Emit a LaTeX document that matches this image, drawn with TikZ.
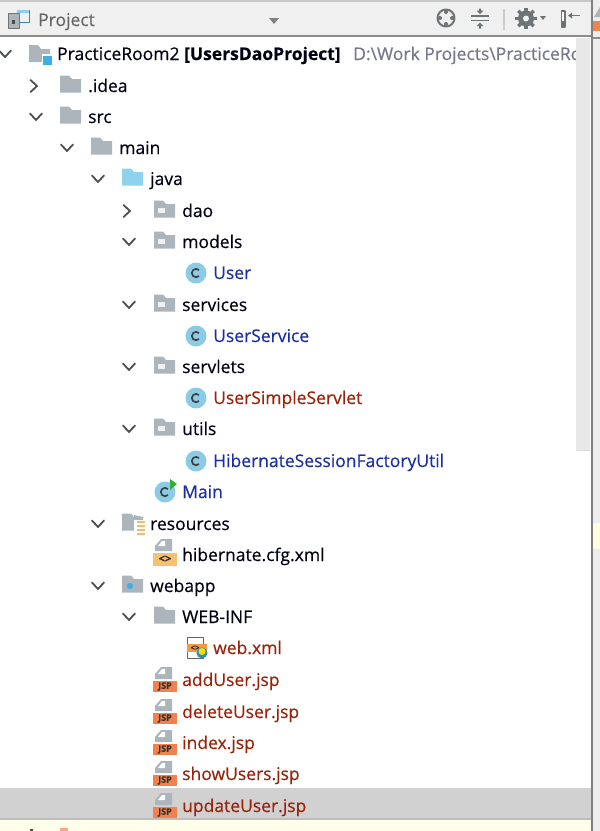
\documentclass[tikz,border=0pt]{standalone}
\usepackage{fontspec}
\setmainfont[RawFeature={embolden=0.35}]{Open Sans}
\begin{document}
\begin{tikzpicture}[x=1pt,y=-1pt,line join=round,
  lbl/.style={anchor=base west,inner sep=0pt,font=\fontsize{17.5}{19}\selectfont,text=black!92!blue},
  blu/.style={lbl,text=cblue},
  red/.style={lbl,text=cred},
  gryt/.style={lbl,text=cgrayt},
  chev/.style={draw=cchev,line width=1.8pt,line cap=round},
  tool/.style={draw=ctool,line width=1.6pt}]
\definecolor{cblue}{HTML}{1A2FA0}
\definecolor{cred}{HTML}{9A2208}
\definecolor{cgrayt}{HTML}{77778A}
\definecolor{cchev}{HTML}{4A4F52}
\definecolor{cfold}{HTML}{ACB5BC}
\definecolor{ctool}{HTML}{6E7376}
\definecolor{cjava}{HTML}{8ED2EE}
\definecolor{ccirc}{HTML}{8CCBE6}
\definecolor{cdot}{HTML}{3FAEE0}
\definecolor{corange}{HTML}{F0824E}
\definecolor{cxml}{HTML}{F6C170}
\useasboundingbox (0,0) rectangle (600,831);
% panels
\fill[white] (0,0) rectangle (600,831);
\fill[black!6] (0,2) rectangle (591,35);
\fill[black!22] (0,0) rectangle (600,2);
\fill[black!45] (0,35) rectangle (591,37);
\fill[black!7] (593,0) rectangle (600,831);
\fill[black!9] (576,38) rectangle (590,450);
\fill[black!14] (576,449.5) rectangle (590,450.5);
\fill[black!50] (590.5,0) rectangle (592.5,831);
\fill[black!18] (0,788) rectangle (590.5,819);
\fill[black!26] (0,817.5) rectangle (590.5,819.5);
\fill[yellow!8] (0,819.5) rectangle (590.5,831);
\fill[yellow!12] (593,523) rectangle (600,549);
\fill[black!30] (600,7) -- (594,17) -- (600,17) -- cycle;
\fill[corange] (593,21) rectangle (600,31);
\fill[black!45] (593,37) rectangle (600,39);
% macros
\def\chevd#1#2{\draw[chev] (#1-6,#2-3.5) -- (#1,#2+3) -- (#1+6,#2-3.5);}
\def\chevr#1#2{\draw[chev] (#1-3.5,#2-6) -- (#1+3,#2) -- (#1-3.5,#2+6);}
\def\fold#1#2#3{\fill[#3] (#1,#2-10.5) -- (#1+9,#2-10.5) -- (#1+12,#2-7) -- (#1+21,#2-7) -- (#1+21,#2+6.5) -- (#1,#2+6.5) -- cycle;}
\def\pkg#1#2{\fold{#1}{#2}{cfold}\fill[white!80!cfold] (#1+4,#2-3) rectangle (#1+11,#2+2);}
\def\cls#1#2{\fill[ccirc] (#1,#2) circle (10.5);\draw[black!75,line width=1.7pt] (#1+3,#2+3) arc (45:315:4.2);}
\def\doc#1#2{\fill[cfold] (#1+8,#2-13) -- (#1+19,#2-13) -- (#1+19,#2-1) -- (#1+2,#2-1) -- (#1+2,#2-6) -- cycle;\fill[white] (#1+9,#2-11) -- (#1+12,#2-11) -- (#1+12,#2-6) -- (#1+5,#2-6) -- cycle;}
\def\jsp#1#2{\doc{#1}{#2}\fill[corange] (#1,#2+1) rectangle (#1+24,#2+12);\node[inner sep=0pt,font=\fontsize{9}{9}\bfseries\selectfont,text=black!80] at (#1+12,#2+6.5) {JSP};}
% header
\fill[cfold] (8,13) rectangle (19,28);
\draw[black!55,line width=.8pt] (8,13) rectangle (19,28);
\draw[cdot!80!black,line width=1pt] (19,10) -- (29,10) -- (29,22) -- (19,22);
\fill[cdot!60] (17,10) rectangle (29,13);
\fill[black!70] (11.5,19.5) rectangle (15,24);
\node[lbl,text=black!60] (hdr) at (38,26) {Project};
\fill[black!50] (269,18) -- (279,18) -- (274,24) -- cycle;
% toolbar
\draw[tool,line width=2pt] (446,18) circle (8.5);
\fill[ctool] (446,12) circle (2) (446,24) circle (2) (440,18) circle (2) (452,18) circle (2);
\draw[tool,line width=1.1pt] (471,16) -- (489,16) (471,20.5) -- (489,20.5);
\fill[ctool] (480,14) -- (476.5,10.5) -- (479,10.5) -- (479,8.5) -- (481,8.5) -- (481,10.5) -- (483.5,10.5) -- cycle;
\fill[ctool] (480,22.5) -- (476.5,26) -- (479,26) -- (479,28.5) -- (481,28.5) -- (481,26) -- (483.5,26) -- cycle;
\fill[black!20] (503,9) rectangle (505,30);
\fill[ctool] (526,18.5) circle (8);
\foreach \a in {0,45,...,315}{\draw[ctool,line width=3.2pt] (526,18.5) -- ++(\a:10.8);}
\fill[black!6] (526,18.5) circle (3);
\fill[black!55] (540,16) -- (546,16) -- (543,20) -- cycle;
\draw[ctool,line width=1.2pt,fill=white] (561.5,11) rectangle (565,27);
\fill[ctool] (561.5,21) rectangle (565,27);
\draw[ctool,line width=1.3pt] (570,15.5) -- (580,15.5);
\fill[ctool] (568,15.5) -- (572,12.5) -- (572,18.5) -- cycle;
% tree
\chevd{5}{54}
\fill[cfold] (29,45) -- (38,45) -- (41,49) -- (50,49) -- (50,62) -- (29,62) -- cycle;
\fill[white] (42,54) rectangle (53,66);
\fill[cdot] (43,56) rectangle (52,65);
\node[lbl] (root) at (57,60) {PracticeRoom2 \textbf{[UsersDaoProject]}};
\node[gryt] (path) at (353,60) {D:\textbackslash Work Projects\textbackslash PracticeRoo};
\fill[white] (576,38) rectangle (591,80);\fill[black!9] (576,38) rectangle (590,450);
\chevr{34}{86}\fold{60}{86}{cfold}\node[lbl] (idea) at (88,92) {.idea};
\chevd{36}{117}\fold{60}{117}{cfold}\node[lbl] (src) at (88,123) {src};
\chevd{67}{148}\fold{91}{148}{cfold}\node[lbl] (main) at (119,154) {main};
\chevd{98}{179}\fold{122}{179}{cjava}\node[lbl] (java) at (150,185) {java};
\chevr{127}{211}\pkg{154}{211}\node[lbl] (dao) at (182,217) {dao};
\chevd{129}{242}\pkg{154}{242}\node[lbl] (models) at (182,248) {models};
\cls{196}{273}\node[blu] (user) at (213,279) {User};
\chevd{129}{305}\pkg{154}{305}\node[lbl] (services) at (182,311) {services};
\cls{196}{336}\node[blu] (usvc) at (213,342) {UserService};
\chevd{129}{367}\pkg{154}{367}\node[lbl] (servlets) at (182,373) {servlets};
\cls{196}{398}\node[red] (usrv) at (213,404) {UserSimpleServlet};
\chevd{129}{429}\pkg{154}{429}\node[lbl] (utils) at (182,435) {utils};
\cls{196}{461}\node[blu] (hib) at (213,467) {HibernateSessionFactoryUtil};
\cls{165}{492}\fill[green!60!black!80] (170,479) -- (177,484) -- (170,490) -- cycle;
\node[blu] (mainc) at (182,498) {Main};
% resources
\chevd{98}{524}\fold{122}{524}{cfold}\fill[white] (134,519) rectangle (148,537);
\fill[cfold] (134,515) -- (143,517) -- (143,520) -- (134,520) -- cycle;
\foreach \yy in {521,525,529,533}{\fill[cxml!90!orange] (137,\yy) rectangle (145,\yy+2);}
\node[lbl] (res) at (150,530) {resources};
\doc{153}{552}\fill[cxml] (153,553) rectangle (177,566);
\node[inner sep=0pt,font=\fontsize{11}{11}\bfseries\selectfont,text=black!80] at (165,559) {<>};
\node[lbl] (cfg) at (182,561) {hibernate.cfg.xml};
% webapp
\chevd{98}{586}\fold{122}{586}{cfold}\fill[cdot] (130,586) circle (3.2);
\node[lbl] (web) at (150,592) {webapp};
\chevd{129}{617}\fold{154}{617}{cfold}\node[lbl] (inf) at (182,623) {WEB-INF};
\draw[black!60,line width=1pt] (187,637) rectangle (203,658);
\fill[corange!80!yellow] (187,644) rectangle (207,652);
\node[inner sep=0pt,font=\fontsize{8}{8}\bfseries\selectfont,text=black!80] at (195,648) {<>};
\fill[cdot!80!black] (202,653) circle (5.5);\fill[yellow!80!orange] (202,651.5) circle (3.5);
\node[red] (wx) at (213,654) {web.xml};
\jsp{153}{680}\node[red] (add) at (182,686) {addUser.jsp};
\jsp{153}{712}\node[red] (del) at (182,718) {deleteUser.jsp};
\jsp{153}{743}\node[red] (idx) at (182,749) {index.jsp};
\jsp{153}{774}\node[red] (show) at (182,780) {showUsers.jsp};
\jsp{153}{806}\node[red] (upd) at (182,812) {updateUser.jsp};
% clipped row
\fill[cchev] (30,829) rectangle (33,831);
\fill[corange!70] (60,828) rectangle (68,831);
\end{tikzpicture}
\end{document}
